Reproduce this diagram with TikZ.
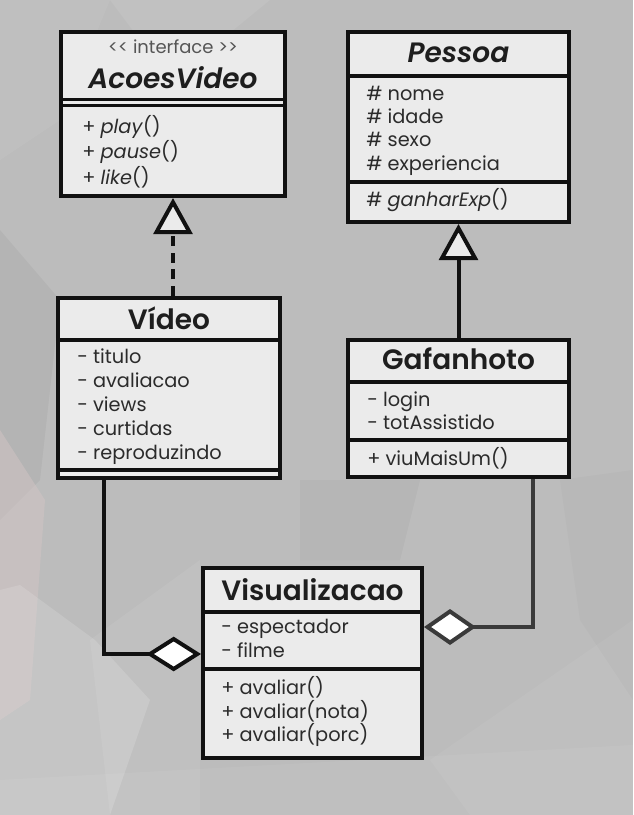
\documentclass[tikz,border=0pt]{standalone}
\usepackage{fontspec}
\setmainfont{Poppins}[BoldFont={Poppins SemiBold}, BoldItalicFont={Poppins SemiBold Italic}]
\usetikzlibrary{arrows.meta,calc}

\definecolor{bggray}{HTML}{BCBCBC}
\definecolor{boxfill}{HTML}{EBEBEB}
\definecolor{ink}{HTML}{111111}
\definecolor{softink}{HTML}{3A3A3A}
\definecolor{titleink}{HTML}{1E1E1E}
\definecolor{textink}{HTML}{2B2B2B}
\definecolor{stereoink}{HTML}{555555}
\definecolor{blush}{HTML}{D6C6C6}

\tikzset{
  classbox/.style={draw=ink, line width=3pt, fill=boxfill, inner sep=0pt},
  sepline/.style={draw=ink, line width=2.6pt},
  ctitle/.style={font=\fontsize{21}{24}\selectfont\bfseries, text=titleink, anchor=base, inner sep=0pt},
  ctitleit/.style={ctitle, font=\fontsize{21}{24}\selectfont\bfseries\itshape},
  stereo/.style={font=\fontsize{13.5}{15}\selectfont, text=stereoink, anchor=base, inner sep=0pt},
  member/.style={font=\fontsize{14.5}{16}\selectfont, text=textink, anchor=mid west, inner sep=0pt},
  realize/.style={draw=ink, line width=3pt, dash pattern=on 7.5pt off 5pt,
    -{Triangle[length=27pt, width=29pt, fill=boxfill]}},
  inherit/.style={draw=ink, line width=3pt,
    -{Triangle[length=27pt, width=29pt, fill=boxfill]}},
  aggr/.style={draw=ink, line width=3pt,
    {Diamond[length=41pt, width=26pt, fill=white]}-},
  aggrsoft/.style={draw=softink, line width=3pt,
    {Diamond[length=39pt, width=27pt, fill=white]}-},
}

\begin{document}
\begin{tikzpicture}[x=0.75pt,y=-0.75pt]
\useasboundingbox (0,0) rectangle (633,815);

% faceted gray backdrop
\fill[bggray] (0,0) rectangle (633,815);
\fill[white, opacity=0.08] (110,0) -- (270,0) -- (215,45) -- (140,40) -- cycle;
\fill[white, opacity=0.06] (0,0) -- (110,0) -- (60,120) -- (0,160) -- cycle;
\fill[black, opacity=0.04] (0,230) -- (60,300) -- (40,480) -- (0,520) -- cycle;
\fill[blush, opacity=0.45] (0,430) -- (45,500) -- (30,700) -- (0,720) -- cycle;
\fill[white, opacity=0.14] (0,590) -- (20,585) -- (95,640) -- (150,700) -- (110,815) -- (0,815) -- cycle;
\fill[white, opacity=0.07] (90,640) -- (200,560) -- (200,815) -- (110,815) -- cycle;
\fill[black, opacity=0.03] (300,480) -- (420,480) -- (400,560) -- (300,560) -- cycle;
\fill[white, opacity=0.06] (0,780) -- (633,745) -- (633,815) -- (0,815) -- cycle;
\fill[white, opacity=0.05] (430,760) -- (633,620) -- (633,815) -- (470,815) -- cycle;
\fill[black, opacity=0.02] (560,480) -- (633,470) -- (633,700) -- (580,620) -- cycle;

% AcoesVideo interface
\node[classbox, minimum width=168pt, minimum height=123pt] (acoes) at (173,114) {};
\draw[sepline, line width=2.2pt] (61,99.5) -- (285,99.5);
\draw[sepline, line width=2.2pt] (61,105.5) -- (285,105.5);
\node[stereo] (acoes-st) at (173,53) {<{}< interface >{}>};
\node[ctitleit] (acoes-t) at (173,88) {AcoesVideo};
\node[member] (acoes-m1) at (82,130) {+ \textit{play}()};
\node[member] (acoes-m2) at (82,155) {+ \textit{pause}()};
\node[member] (acoes-m3) at (82,181) {+ \textit{like}()};

% Pessoa
\node[classbox, minimum width=165.75pt, minimum height=142.5pt] (pessoa) at (458.5,127) {};
\draw[sepline] (348,76) -- (569,76);
\draw[sepline] (348,182) -- (569,182);
\node[ctitleit] (pessoa-t) at (458.5,62) {Pessoa};
\node[member] (pessoa-a1) at (366,97) {\# nome};
\node[member] (pessoa-a2) at (366,120) {\# idade};
\node[member] (pessoa-a3) at (366,143) {\# sexo};
\node[member] (pessoa-a4) at (366,167) {\# experiencia};
\node[member] (pessoa-m1) at (366,203) {\# \textit{ganharExp}()};

% Video
\node[classbox, minimum width=166.5pt, minimum height=135pt] (video) at (169,388) {};
\draw[sepline] (58,340) -- (280,340);
\draw[sepline] (58,470) -- (280,470);
\node[ctitle] (video-t) at (169,329) {Vídeo};
\node[member] (video-a1) at (77,360) {- titulo};
\node[member] (video-a2) at (77,384) {- avaliacao};
\node[member] (video-a3) at (77,408) {- views};
\node[member] (video-a4) at (77,432) {- curtidas};
\node[member] (video-a5) at (77,456) {- reproduzindo};

% Gafanhoto
\node[classbox, minimum width=165.75pt, minimum height=102.75pt] (gaf) at (458.5,408.5) {};
\draw[sepline] (348,382) -- (569,382);
\draw[sepline] (348,440) -- (569,440);
\node[ctitle] (gaf-t) at (458.5,369) {Gafanhoto};
\node[member] (gaf-a1) at (367,403) {- login};
\node[member] (gaf-a2) at (367,426) {- totAssistido};
\node[member] (gaf-m1) at (367,462) {+ viuMaisUm()};

% Visualizacao
\node[classbox, minimum width=164.25pt, minimum height=142.5pt] (vis) at (312.5,663) {};
\draw[sepline] (203,612) -- (422,612);
\draw[sepline] (203,669) -- (422,669);
\node[ctitle] (vis-t) at (312.5,600) {Visualizacao};
\node[member] (vis-a1) at (221,630) {- espectador};
\node[member] (vis-a2) at (221,654) {- filme};
\node[member] (vis-m1) at (221,691) {+ avaliar()};
\node[member] (vis-m2) at (221,715) {+ avaliar(nota)};
\node[member] (vis-m3) at (221,738) {+ avaliar(porc)};

% relations
\draw[realize] (video.north -| acoes.south) -- (acoes.south);
\draw[inherit] (gaf.north) -- (pessoa.south);
\draw[aggr] ($(vis.west)+(0,-9)$) -| ($(video.south)+(-65,0)$);
\draw[aggrsoft] ($(vis.east)+(0,-36)$) -| ($(gaf.south)+(74,0)$);
\end{tikzpicture}
\end{document}
